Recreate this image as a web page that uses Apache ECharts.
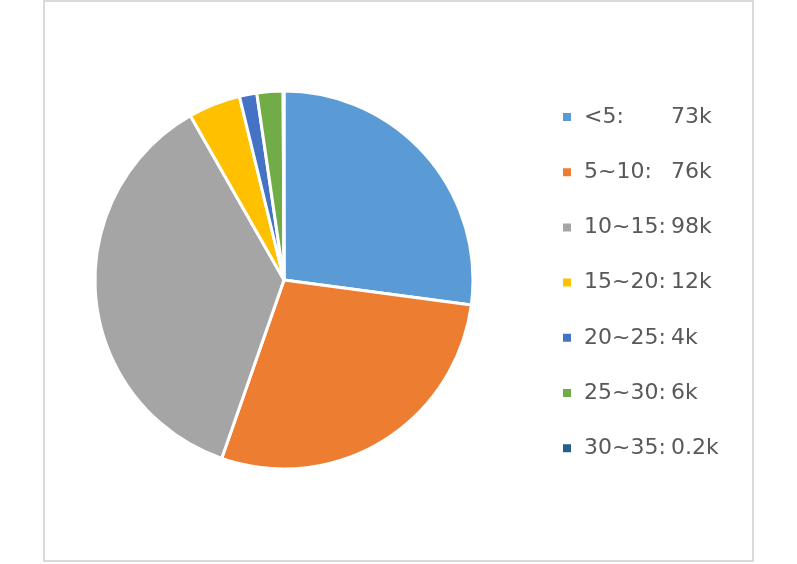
<!DOCTYPE html>
<html>
<head>
<meta charset="utf-8">
<script src="https://cdn.jsdelivr.net/npm/echarts@6/dist/echarts.min.js"></script>
<style>
  html, body { margin: 0; padding: 0; background: #fff; }
  #main { width: 797px; height: 564px; }
</style>
</head>
<body>
<div id="main"></div>
<script>
// ranges and counts (k)
var categories = ['<5', '5~10', '10~15', '15~20', '20~25', '25~30', '30~35']
var values = [73, 76, 98, 12, 4, 6, 0.2]
var colors = ['#5B9BD5', '#ED7D31', '#A5A5A5', '#FFC000', '#4472C4', '#70AD47', '#255E91']

var myChart = echarts.init(document.getElementById('main'))

var pieData = categories.map(function (c, i) {
  return { name: c, value: values[i], itemStyle: { color: colors[i] } }
})

var option = {
  animation: false,
  graphic: [{
    type: 'rect',
    shape: { x: 44, y: 1, width: 709, height: 560 },
    style: { fill: 'none', stroke: '#D9D9D9', lineWidth: 2 },
    silent: true
  }],
  legend: {
    orient: 'vertical',
    left: 556,
    top: 101,
    itemWidth: 10,
    itemHeight: 10,
    itemGap: 33.2,
    icon: 'rect',
    data: categories,
    formatter: function (name) {
      var i = categories.indexOf(name)
      return '{n|' + name + ': }{v|' + values[i] + 'k}'
    },
    textStyle: {
      rich: {
        n: { fontFamily: 'DejaVu Sans', fontSize: 22, color: '#595959', width: 87, lineHeight: 24, padding: [0, 0, 0, 7] },
        v: { fontFamily: 'DejaVu Sans', fontSize: 22, color: '#595959', lineHeight: 24 }
      }
    }
  },
  series: [{
    type: 'pie',
    center: [284, 280],
    radius: 189,
    startAngle: 90,
    clockwise: true,
    label: { show: false },
    labelLine: { show: false },
    itemStyle: { borderColor: '#fff', borderWidth: 3 },
    emphasis: { disabled: true },
    data: pieData
  }]
}

myChart.setOption(option)
</script>
</body>
</html>
